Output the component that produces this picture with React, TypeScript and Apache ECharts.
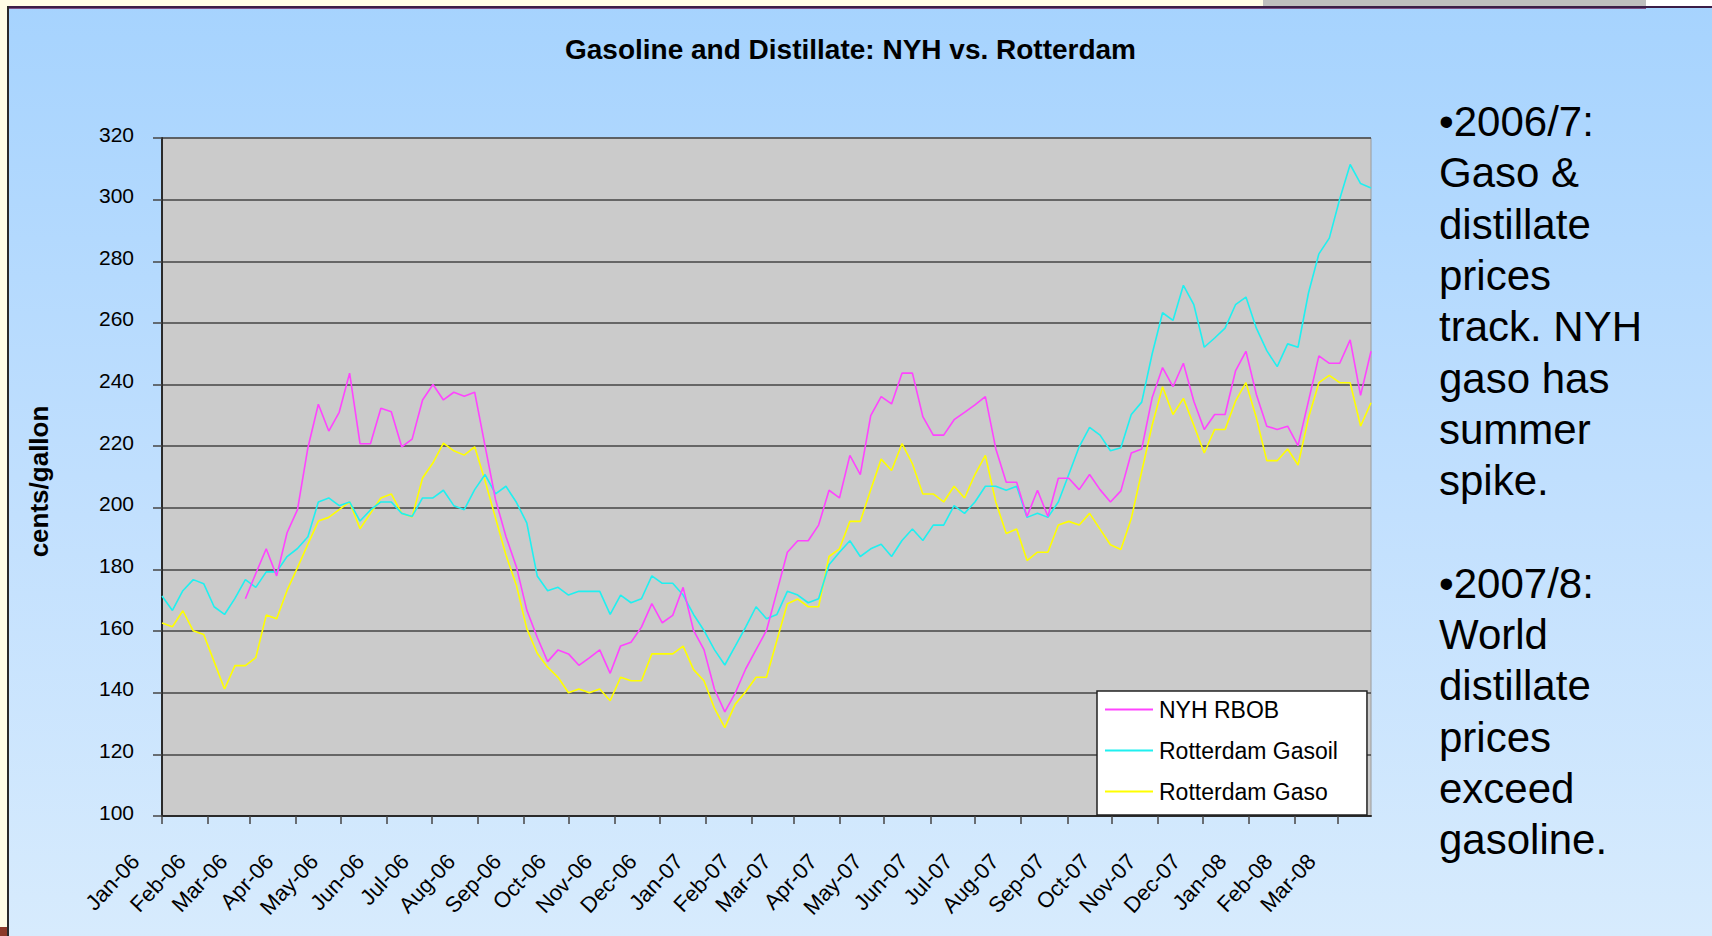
import React, { useEffect, useRef } from "react";
import * as echarts from "echarts";

// ---- data ----
const FIRST_WEEK = "2006-01-01"; // weekly observations, one every 7 days
const WEEK_COUNT = 117;

const MONTH_NAMES = ["Jan", "Feb", "Mar", "Apr", "May", "Jun", "Jul", "Aug", "Sep", "Oct", "Nov", "Dec"];

const MONTH_TICKS = [
  "2006-01-01", "2006-02-01", "2006-03-01", "2006-04-01", "2006-05-01", "2006-06-01",
  "2006-07-01", "2006-08-01", "2006-09-01", "2006-10-01", "2006-11-01", "2006-12-01",
  "2007-01-01", "2007-02-01", "2007-03-01", "2007-04-01", "2007-05-01", "2007-06-01",
  "2007-07-01", "2007-08-01", "2007-09-01", "2007-10-01", "2007-11-01", "2007-12-01",
  "2008-01-01", "2008-02-01", "2008-03-01",
];

const Y_MIN = 100;
const Y_MAX = 320;
const Y_STEP = 20;

const NYH_RBOB: (number | null)[] = [
  null, null, null, null, null, null, null, null,
  170.5, 178.7, 186.7, 177.9, 191.9, 199.4, 219.5, 233.6, 224.9, 231.0, 243.7, 220.8, 220.8, 232.3, 231.2, 219.8,
  222.3, 235.0, 240.0, 235.0, 237.5, 236.2, 237.5, 220.0, 202.7, 190.7, 180.9, 166.8, 158.0, 150.1, 153.9, 152.6, 148.9, 151.3, 153.9, 146.3, 155.2, 156.4, 161.3,
  168.9, 162.7, 165.1, 174.2, 160.2, 154.0, 141.2, 133.8, 139.9, 147.7, 154.0, 160.2, 172.8, 185.6, 189.3, 189.3, 194.4, 205.7, 203.2, 217.0, 210.8, 229.9, 236.1,
  233.7, 243.7, 243.7, 229.6, 223.6, 223.6, 228.6, 231.0, 233.4, 236.1, 219.2, 208.3, 208.3, 197.2, 205.7, 197.2, 209.6, 209.6, 205.9, 210.8, 205.9, 201.9, 205.5,
  217.8, 219.1, 235.7, 245.5, 239.3, 246.9, 234.6, 225.4, 230.3, 230.3, 244.4, 250.8, 236.8, 226.5, 225.4, 226.5, 220.2, 234.6, 249.3, 246.9, 246.9, 254.5, 236.5, 250.8,
];

const ROTTERDAM_GASOIL: number[] = [
  171.4, 166.7, 173.1, 176.7, 175.4, 167.9, 165.4, 170.6, 176.7, 174.2, 179.2, 179.2, 184.2, 186.8, 190.6, 201.9, 203.2, 200.7, 201.9, 195.7, 199.3, 201.9, 201.9, 198.2,
  197.2, 203.2, 203.2, 205.7, 200.7, 199.4, 205.9, 210.8, 204.5, 207.0, 201.8, 195.1, 177.9, 173.1, 174.2, 171.7, 172.9, 172.9, 172.9, 165.4, 171.7, 169.2, 170.5,
  177.9, 175.5, 175.5, 171.7, 165.4, 160.2, 154.0, 149.0, 155.1, 161.3, 167.9, 164.0, 165.4, 172.9, 171.7, 169.2, 170.5, 181.5, 185.6, 189.3, 184.2, 186.7, 188.2,
  184.2, 189.4, 193.1, 189.4, 194.4, 194.4, 200.7, 198.2, 201.9, 207.0, 207.0, 205.7, 207.0, 196.9, 198.2, 196.9, 201.9, 210.8, 219.8, 226.1, 223.6, 218.5, 219.5,
  230.3, 234.3, 249.9, 263.3, 260.8, 272.2, 265.9, 252.1, 255.1, 258.3, 265.9, 268.4, 258.3, 251.0, 245.8, 253.2, 252.1, 269.7, 282.4, 287.5, 300.2, 311.4, 305.2, 303.8,
];

const ROTTERDAM_GASO: number[] = [
  162.6, 161.4, 166.6, 160.1, 158.9, 150.1, 141.2, 148.8, 148.8, 151.4, 165.2, 164.0, 173.2, 180.6, 188.2, 195.7, 196.9, 199.4, 201.9, 193.2, 198.2, 203.2, 204.5, 198.2,
  197.0, 209.7, 214.6, 221.0, 218.5, 217.1, 219.8, 208.7, 196.7, 184.7, 174.9, 160.8, 152.8, 148.3, 145.0, 140.0, 141.2, 140.0, 141.2, 137.4, 145.0, 143.9, 143.9,
  152.6, 152.6, 152.6, 155.1, 147.5, 143.9, 135.0, 128.7, 136.3, 140.3, 145.0, 145.0, 157.0, 168.9, 170.4, 167.9, 167.9, 184.2, 186.7, 195.6, 195.6, 205.9, 215.8,
  212.1, 220.8, 214.3, 204.5, 204.5, 201.9, 207.0, 203.2, 210.8, 217.0, 201.9, 191.7, 193.1, 182.9, 185.6, 185.6, 194.4, 195.6, 194.4, 198.2, 193.1, 188.0, 186.5,
  196.5, 211.8, 226.8, 239.3, 230.3, 235.5, 226.8, 217.8, 225.4, 225.4, 234.6, 240.6, 229.2, 215.3, 215.3, 219.1, 213.9, 229.2, 240.6, 243.0, 240.6, 240.6, 226.5, 234.1,
];

const SERIES_NAMES = ["NYH RBOB", "Rotterdam Gasoil", "Rotterdam Gaso"];
const SERIES_COLORS = ["#ff44ff", "#1ff0f0", "#ffff00"];

const TITLE = "Gasoline and Distillate: NYH vs. Rotterdam";
const Y_NAME = "cents/gallon";
const SIDE_NOTE = [
  "•2006/7:", "Gaso &", "distillate", "prices", "track. NYH", "gaso has", "summer", "spike.",
  "",
  "•2007/8:", "World", "distillate", "prices", "exceed", "gasoline.",
];

// ---- helpers ----
const parseLocal = (s: string) => {
  const [y, m, d] = s.split("-").map(Number);
  return new Date(y, m - 1, d).getTime();
};
const weekDates = (() => {
  const [y, m, d] = FIRST_WEEK.split("-").map(Number);
  const out: number[] = [];
  for (let k = 0; k < WEEK_COUNT; k++) out.push(new Date(y, m - 1, d + 7 * k).getTime());
  return out;
})();
const toPairs = (vals: (number | null)[]) =>
  vals.map((v, i) => [weekDates[i], v] as [number, number | null]).filter((p) => p[1] !== null);
const fmtMonth = (v: number) => {
  const d = new Date(v);
  return `${MONTH_NAMES[d.getMonth()]}-${String(d.getFullYear()).slice(2)}`;
};

const FONT = "'Liberation Sans', Arial, Helvetica, sans-serif";

export default function App() {
  const ref = useRef<HTMLDivElement>(null);

  useEffect(() => {
    document.body.style.margin = "0";
    if (!ref.current) return;
    const chart = echarts.init(ref.current, undefined, { renderer: "svg" });
    const tickValues = MONTH_TICKS.map(parseLocal);
    const seriesData = [NYH_RBOB, ROTTERDAM_GASOIL, ROTTERDAM_GASO];

    chart.setOption({
      animation: false,
      backgroundColor: "transparent",
      color: SERIES_COLORS,
      textStyle: { fontFamily: FONT },
      title: {
        text: TITLE,
        left: 560,
        top: 30,
        textStyle: { fontFamily: FONT, fontSize: 28, fontWeight: "bold", color: "#000" },
      },
      grid: {
        left: 162,
        right: 341,
        top: 138,
        bottom: 120,
        show: true,
        backgroundColor: "#cbcbcb",
        borderColor: "#9a9a9a",
        borderWidth: 1,
      },
      legend: {
        orient: "vertical",
        left: 1097,
        top: 691,
        padding: [7, 29, 12, 8],
        itemWidth: 48,
        itemHeight: 2,
        itemGap: 18,
        icon: "rect",
        backgroundColor: "#ffffff",
        borderColor: "#222",
        borderWidth: 1.5,
        borderRadius: 0,
        data: SERIES_NAMES,
        textStyle: { fontFamily: FONT, fontSize: 23, color: "#000", padding: [0, 0, 0, 1] },
      },
      xAxis: {
        type: "value",
        min: weekDates[0],
        max: weekDates[WEEK_COUNT - 1],
        splitLine: { show: false },
        axisLine: { show: true, onZero: false, lineStyle: { color: "#2a2a2a", width: 2 } },
        axisTick: {
          show: true,
          customValues: tickValues,
          length: 8,
          lineStyle: { color: "#444", width: 1.5 },
        },
        axisLabel: {
          customValues: tickValues,
          formatter: (v: number) => fmtMonth(v),
          rotate: 47,
          margin: 13,
          padding: [0, 39, 0, 0],
          fontFamily: FONT,
          fontSize: 22,
          color: "#000",
        },
      },
      yAxis: {
        type: "value",
        min: Y_MIN,
        max: Y_MAX,
        interval: Y_STEP,
        name: Y_NAME,
        nameLocation: "middle",
        nameRotate: 90,
        nameGap: 110,
        nameTextStyle: {
          fontFamily: FONT,
          fontSize: 26,
          fontWeight: "bold",
          color: "#000",
          padding: [0, 9, 0, 0],
        },
        axisLine: { show: true, lineStyle: { color: "#2a2a2a", width: 2 } },
        axisTick: { show: true, length: 9, lineStyle: { color: "#444", width: 1.5 } },
        axisLabel: {
          margin: 28,
          fontFamily: FONT,
          fontSize: 21,
          color: "#000",
          verticalAlign: "bottom",
          lineHeight: 8,
        },
        splitLine: { show: true, lineStyle: { color: "#444", width: 1.6 } },
      },
      series: seriesData.map((vals, i) => ({
        name: SERIES_NAMES[i],
        type: "line",
        data: toPairs(vals),
        showSymbol: false,
        symbol: "none",
        lineStyle: { color: SERIES_COLORS[i], width: 1.6 },
        itemStyle: { color: SERIES_COLORS[i] },
        z: 3 - i,
      })),
      graphic: [
        { type: "rect", shape: { x: 0, y: 0, width: 1712, height: 7 }, style: { fill: "#fffde6" }, silent: true },
        { type: "rect", shape: { x: 1263, y: 0, width: 383, height: 8 }, style: { fill: "#bebebe" }, silent: true },
        { type: "rect", shape: { x: 1646, y: 0, width: 66, height: 7 }, style: { fill: "#ffffff" }, silent: true },
        { type: "rect", shape: { x: 0, y: 6, width: 1712, height: 2 }, style: { fill: "#3b1d47" }, silent: true },
        { type: "rect", shape: { x: 0, y: 8, width: 1646, height: 1 }, style: { fill: "#7a4f86" }, silent: true },
        { type: "rect", shape: { x: 0, y: 0, width: 7, height: 936 }, style: { fill: "#fffde6" }, silent: true },
        { type: "rect", shape: { x: 7, y: 6, width: 2, height: 930 }, style: { fill: "#2a2a2a" }, silent: true },
        { type: "rect", shape: { x: 0, y: 927, width: 7, height: 9 }, style: { fill: "#8b3a2a" }, silent: true },
        {
          type: "text",
          x: 1439,
          y: 96,
          silent: true,
          style: {
            text: SIDE_NOTE.join("\n"),
            fontFamily: FONT,
            fontSize: 42,
            lineHeight: 51.3,
            fill: "#000",
            verticalAlign: "top",
            align: "left",
          },
        },
      ],
    });

    return () => chart.dispose();
  }, []);

  return (
    <div
      ref={ref}
      style={{
        position: "absolute",
        left: 0,
        top: 0,
        width: 1712,
        height: 936,
        background: "linear-gradient(180deg, #a6d3fe 0%, #c2e0fe 55%, #d7ebfd 100%)",
      }}
    />
  );
}
